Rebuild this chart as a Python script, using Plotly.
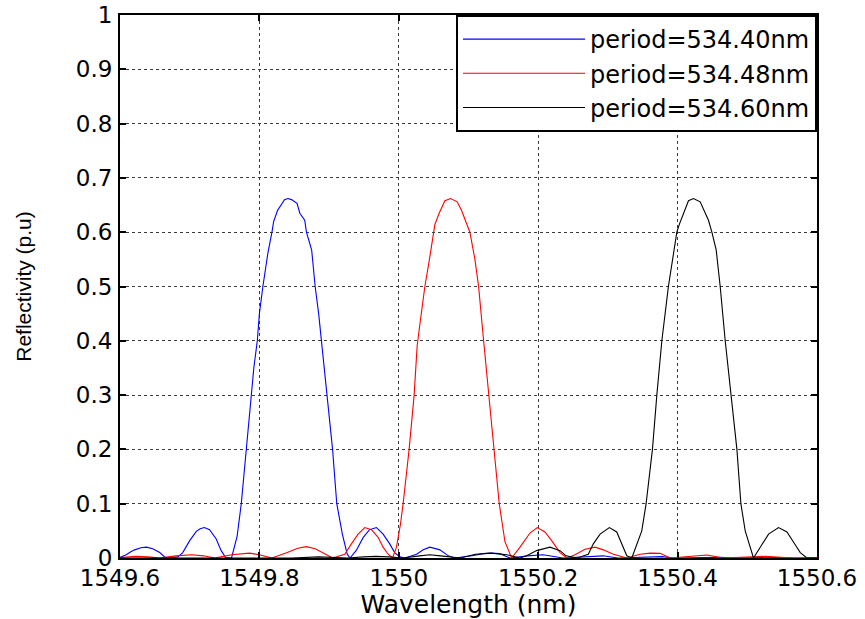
import plotly.graph_objects as go

# ---------------- data ----------------
series_names = ["period=534.40nm", "period=534.48nm", "period=534.60nm"]
series_colors = ["#0000ff", "#ff0000", "#000000"]

wl_blue = [1549.600, 1549.609, 1549.615, 1549.621, 1549.630, 1549.638, 1549.647, 1549.657, 1549.664, 1549.669,
           1549.683, 1549.690, 1549.700, 1549.7095, 1549.715, 1549.721, 1549.7285, 1549.738, 1549.745, 1549.7515,
           1549.760, 1549.768, 1549.774, 1549.781, 1549.789, 1549.792, 1549.797, 1549.800, 1549.805, 1549.812,
           1549.818, 1549.8205, 1549.826, 1549.8315, 1549.836, 1549.841, 1549.846, 1549.854, 1549.858, 1549.865,
           1549.8675, 1549.875, 1549.880, 1549.885, 1549.889, 1549.894, 1549.897, 1549.905, 1549.911, 1549.919,
           1549.926, 1549.930, 1549.939, 1549.949, 1549.958, 1549.968, 1549.9775, 1549.987, 1549.994, 1550.0015,
           1550.0086, 1550.0255, 1550.035, 1550.0446, 1550.059, 1550.071, 1550.080, 1550.105, 1550.121, 1550.132,
           1550.145, 1550.1595, 1550.185, 1550.207, 1550.2356, 1550.270, 1550.293, 1550.3146, 1550.355, 1550.378,
           1550.394, 1550.440, 1550.461, 1550.482, 1550.520, 1550.547, 1550.570, 1550.600]
r_blue = [0.001, 0.006, 0.011, 0.015, 0.019, 0.020, 0.017, 0.010, 0.002, 0.0,
          0.002, 0.010, 0.032, 0.049, 0.054, 0.056, 0.052, 0.035, 0.014, 0.001,
          0.0, 0.04, 0.10, 0.20, 0.30, 0.35, 0.40, 0.45, 0.50, 0.56,
          0.60, 0.62, 0.64, 0.652, 0.66, 0.662, 0.66, 0.653, 0.635, 0.622,
          0.60, 0.567, 0.50, 0.45, 0.40, 0.35, 0.30, 0.20, 0.10, 0.044,
          0.007, 0.0, 0.014, 0.038, 0.052, 0.056, 0.044, 0.026, 0.010, 0.002,
          0.0, 0.007, 0.015, 0.020, 0.015, 0.004, 0.0, 0.004, 0.008, 0.009,
          0.008, 0.0, 0.004, 0.006, 0.0, 0.003, 0.004, 0.0, 0.002, 0.0025,
          0.0, 0.001, 0.0015, 0.0, 0.001, 0.001, 0.0, 0.0]

wl_red = [1549.600, 1549.623, 1549.640, 1549.657, 1549.680, 1549.7027, 1549.720, 1549.7357, 1549.760, 1549.786,
          1549.800, 1549.8176, 1549.840, 1549.855, 1549.8675, 1549.880, 1549.9052, 1549.9225, 1549.932, 1549.9416,
          1549.9512, 1549.9608, 1549.9703, 1549.9775, 1549.9847, 1549.991, 1549.9967, 1550.0025, 1550.0062, 1550.0148,
          1550.022, 1550.0263, 1550.0302, 1550.0374, 1550.0446, 1550.0493, 1550.0517, 1550.0579, 1550.0661, 1550.0743,
          1550.0838, 1550.0901, 1550.0996, 1550.102, 1550.1092, 1550.1145, 1550.1217, 1550.1293, 1550.1365, 1550.1441,
          1550.1523, 1550.1619, 1550.1739, 1550.181, 1550.1882, 1550.1987, 1550.2097, 1550.2194, 1550.2313, 1550.2413,
          1550.2528, 1550.2672, 1550.2815, 1550.2935, 1550.3078, 1550.3271, 1550.3462, 1550.3606, 1550.3749, 1550.3893,
          1550.425, 1550.442, 1550.4654, 1550.510, 1550.5257, 1550.566, 1550.600]
r_red = [0.001, 0.003, 0.002, 0.0, 0.004, 0.006, 0.004, 0.0, 0.006, 0.009,
         0.006, 0.0, 0.010, 0.018, 0.021, 0.017, 0.0, 0.007, 0.026, 0.044,
         0.056, 0.052, 0.038, 0.020, 0.007, 0.0, 0.02, 0.063, 0.10, 0.20,
         0.30, 0.39, 0.43, 0.50, 0.555, 0.60, 0.614, 0.635, 0.658, 0.662,
         0.656, 0.64, 0.61, 0.60, 0.55, 0.50, 0.40, 0.30, 0.20, 0.10,
         0.03, 0.0, 0.02, 0.034, 0.046, 0.056, 0.048, 0.032, 0.010, 0.0,
         0.006, 0.016, 0.020, 0.015, 0.007, 0.0, 0.007, 0.009, 0.0086, 0.0,
         0.004, 0.0055, 0.0, 0.002, 0.003, 0.0, 0.001]

wl_black = [1549.600, 1549.700, 1549.750, 1549.800, 1549.8463, 1549.8851, 1549.9268, 1549.950, 1549.967, 1549.985,
            1550.0058, 1550.030, 1550.0446, 1550.060, 1550.0877, 1550.110, 1550.1322, 1550.155, 1550.1739, 1550.1834,
            1550.1978, 1550.2169, 1550.2313, 1550.240, 1550.2557, 1550.2719, 1550.2791, 1550.2888, 1550.3021, 1550.3127,
            1550.3199, 1550.3271, 1550.3343, 1550.3486, 1550.3548, 1550.3639, 1550.3702, 1550.3774, 1550.3868, 1550.394,
            1550.3989, 1550.4026, 1550.4084, 1550.4156, 1550.4228, 1550.4324, 1550.4443, 1550.4492, 1550.4554, 1550.4611,
            1550.4683, 1550.4765, 1550.4851, 1550.4908, 1550.497, 1550.5089, 1550.5185, 1550.5305, 1550.5448, 1550.5569,
            1550.5664, 1550.576, 1550.5856, 1550.600]
r_black = [0.0, 0.0, 0.001, 0.0, 0.0, 0.002, 0.0, 0.002, 0.003, 0.002,
           0.0, 0.004, 0.006, 0.004, 0.0, 0.007, 0.009, 0.006, 0.0, 0.004,
           0.0136, 0.020, 0.0136, 0.004, 0.0, 0.007, 0.026, 0.044, 0.056, 0.048,
           0.026, 0.004, 0.0, 0.05, 0.10, 0.20, 0.30, 0.40, 0.50, 0.555,
           0.60, 0.615, 0.635, 0.658, 0.662, 0.656, 0.622, 0.60, 0.567, 0.50,
           0.40, 0.30, 0.20, 0.10, 0.05, 0.0, 0.02, 0.044, 0.056, 0.048,
           0.029, 0.010, 0.0, 0.0]

x_tick_vals = [1549.6, 1549.8, 1550.0, 1550.2, 1550.4, 1550.6]
x_tick_text = ["1549.6", "1549.8", "1550", "1550.2", "1550.4", "1550.6"]
y_tick_vals = [0, 0.1, 0.2, 0.3, 0.4, 0.5, 0.6, 0.7, 0.8, 0.9, 1.0]
y_tick_text = ["0", "0.1", "0.2", "0.3", "0.4", "0.5", "0.6", "0.7", "0.8", "0.9", "1"]

assert len(wl_blue) == len(r_blue)
assert len(wl_red) == len(r_red)
assert len(wl_black) == len(r_black)

# ---------------- figure ----------------
fig = go.Figure()
for name, color, xs, ys in zip(series_names, series_colors,
                               [wl_blue, wl_red, wl_black],
                               [r_blue, r_red, r_black]):
    fig.add_trace(go.Scatter(x=xs, y=ys, mode="lines", name=name,
                             line=dict(color=color, width=1.1)))

tick_font = dict(family="DejaVu Sans", size=23, color="#000000")
grid_color = "#3a3a3a"

fig.update_layout(
    width=865, height=619,
    margin=dict(l=120, r=48, t=15, b=61, autoexpand=False),
    paper_bgcolor="white", plot_bgcolor="white",
    showlegend=True,
    legend=dict(
        x=1, y=1, xanchor="right", yanchor="top",
        bgcolor="white", bordercolor="#000000", borderwidth=2,
        font=dict(family="DejaVu Sans", size=24, color="#000000"),
        itemwidth=122, tracegroupgap=0,
    ),
    xaxis=dict(
        range=[1549.6, 1550.6], tickmode="array",
        tickvals=x_tick_vals, ticktext=x_tick_text,
        ticks="inside", ticklen=6, tickwidth=1.5, tickcolor="#000000",
        showline=True, linecolor="#000000", linewidth=2, mirror="ticks",
        showgrid=True, gridcolor=grid_color, griddash="dot", gridwidth=1,
        zeroline=False, tickfont=tick_font, ticklabelstandoff=-2,
        ticklabeloverflow="allow",
        title=dict(text="Wavelength (nm)", standoff=4,
                   font=dict(family="DejaVu Sans", size=25, color="#000000")),
    ),
    yaxis=dict(
        range=[0, 1], tickmode="array",
        tickvals=y_tick_vals, ticktext=y_tick_text,
        ticks="inside", ticklen=6, tickwidth=1.5, tickcolor="#000000",
        showline=True, linecolor="#000000", linewidth=2, mirror="ticks",
        showgrid=True, gridcolor=grid_color, griddash="dot", gridwidth=1,
        zeroline=False, tickfont=tick_font, ticklabelstandoff=1,
        ticklabeloverflow="allow",
        title=dict(text="Reflectivity (p.u)", standoff=38,
                   font=dict(family="Liberation Sans", size=21, color="#000000")),
    ),
)

# remove the browser's default 8px page margin so the figure fills the window exactly
fig.write_html("out.html",
               config={"displayModeBar": False},
               post_script="document.body.style.margin='0px';document.body.style.overflow='hidden';")
